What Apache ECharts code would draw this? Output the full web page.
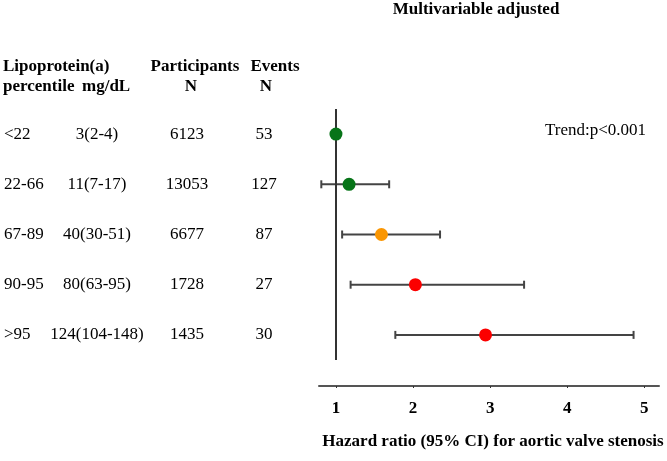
<!DOCTYPE html>
<html>
<head>
<meta charset="utf-8">
<script src="https://cdn.jsdelivr.net/npm/echarts@6/dist/echarts.min.js"></script>
<style>
html,body{margin:0;padding:0;background:#fff;}
#c{width:667px;height:461px;}
</style>
</head>
<body>
<div id="c"></div>
<script>
// ---- data ----
var percentiles = ['<22', '22-66', '67-89', '90-95', '>95'];
var lpaMgdl = ['3(2-4)', '11(7-17)', '40(30-51)', '80(63-95)', '124(104-148)'];
var participants = ['6123', '13053', '6677', '1728', '1435'];
var events = ['53', '127', '87', '27', '30'];
var hazardRatio = [1.0, 1.17, 1.59, 2.03, 2.94];
var ciLower = [null, 0.81, 1.08, 1.19, 1.77];
var ciUpper = [null, 1.69, 2.35, 3.44, 4.86];
var pointColors = ['#077418', '#077418', '#fa9602', '#fb0000', '#fb0000'];
var xTicks = [1, 2, 3, 4, 5];
var trendText = 'Trend:p<0.001';

var FONT = '"Liberation Serif", "Times New Roman", serif';
var chart = echarts.init(document.getElementById('c'), null, {renderer: 'canvas'});

function labelAxis(data, offset, align) {
  return {
    type: 'category', data: data, inverse: true, gridIndex: 0, position: 'left',
    offset: offset,
    axisLine: {show: false}, axisTick: {show: false}, splitLine: {show: false},
    axisLabel: {show: true, margin: 0, align: align, color: '#000', fontFamily: FONT, fontSize: 17}
  };
}
function hdr(text, x, y, align) {
  return {type: 'text', x: x, y: y,
    style: {text: text, textAlign: align || 'left', textVerticalAlign: 'middle',
      fontFamily: FONT, fontWeight: 'bold', fontSize: 17, fill: '#000'}};
}

var option = {
  animation: false,
  backgroundColor: '#fff',
  grid: {left: 319, right: 8, top: 109, height: 251, containLabel: false},
  xAxis: {
    type: 'value', min: 0.78, max: 5.19, offset: 26,
    name: 'Hazard ratio (95% CI) for aortic valve stenosis',
    nameLocation: 'middle', nameGap: 47,
    nameTextStyle: {fontFamily: FONT, fontWeight: 'bold', fontSize: 17, color: '#000', padding: [0, 0, 0, 8]},
    axisLine: {show: true, lineStyle: {color: '#555', width: 2}},
    axisTick: {show: true, length: 2, lineStyle: {color: '#333'},
      customValues: xTicks},
    axisLabel: {margin: 14, fontFamily: FONT, fontWeight: 'bold', fontSize: 17, color: '#000',
      customValues: xTicks, formatter: function (v) { return String(v); }},
    splitLine: {show: false}
  },
  yAxis: [
    {
      type: 'category', data: percentiles, inverse: true, show: false,
      axisLine: {show: false}, axisTick: {show: false}, splitLine: {show: false}
    },
    labelAxis(percentiles, 315, 'left'),
    labelAxis(lpaMgdl, 222, 'center'),
    labelAxis(participants, 132, 'center'),
    labelAxis(events, 55, 'center')
  ],
  graphic: [
    hdr('Multivariable adjusted', 476, 10, 'center'),
    hdr('Lipoprotein(a)', 3, 67),
    hdr('percentile', 3, 87),
    hdr('mg/dL', 82, 87),
    hdr('Participants', 195, 67, 'center'),
    hdr('N', 191, 87, 'center'),
    hdr('Events', 275, 67, 'center'),
    hdr('N', 266, 87, 'center'),
    {type: 'text', x: 545, y: 131, style: {text: trendText, textVerticalAlign: 'middle',
      fontFamily: FONT, fontSize: 17, fill: '#000'}}
  ],
  series: [
    {
      type: 'custom',
      yAxisIndex: 0,
      data: percentiles.map(function (p, i) { return [ciLower[i], ciUpper[i], i]; }),
      renderItem: function (params, api) {
        var lo = api.value(0), hi = api.value(1), idx = api.value(2);
        if (lo == null || hi == null || isNaN(lo) || isNaN(hi)) return null;
        var a = api.coord([lo, idx]);
        var b = api.coord([hi, idx]);
        var cap = 4;
        var st = {stroke: '#444', lineWidth: 2};
        return {
          type: 'group',
          children: [
            {type: 'line', shape: {x1: a[0], y1: a[1], x2: b[0], y2: b[1]}, style: st},
            {type: 'line', shape: {x1: a[0], y1: a[1] - cap, x2: a[0], y2: a[1] + cap}, style: st},
            {type: 'line', shape: {x1: b[0], y1: b[1] - cap, x2: b[0], y2: b[1] + cap}, style: st}
          ]
        };
      },
      markLine: {
        silent: true, symbol: 'none', label: {show: false},
        lineStyle: {color: '#333', width: 2, type: 'solid'},
        data: [{xAxis: 1}]
      },
      z: 2
    },
    {
      type: 'scatter',
      yAxisIndex: 0,
      symbol: 'circle',
      symbolSize: 13,
      itemStyle: {opacity: 1},
      data: hazardRatio.map(function (v, i) {
        return {value: [v, percentiles[i]], itemStyle: {color: pointColors[i], opacity: 1}};
      }),
      z: 5
    }
  ]
};
chart.setOption(option);
</script>
</body>
</html>
